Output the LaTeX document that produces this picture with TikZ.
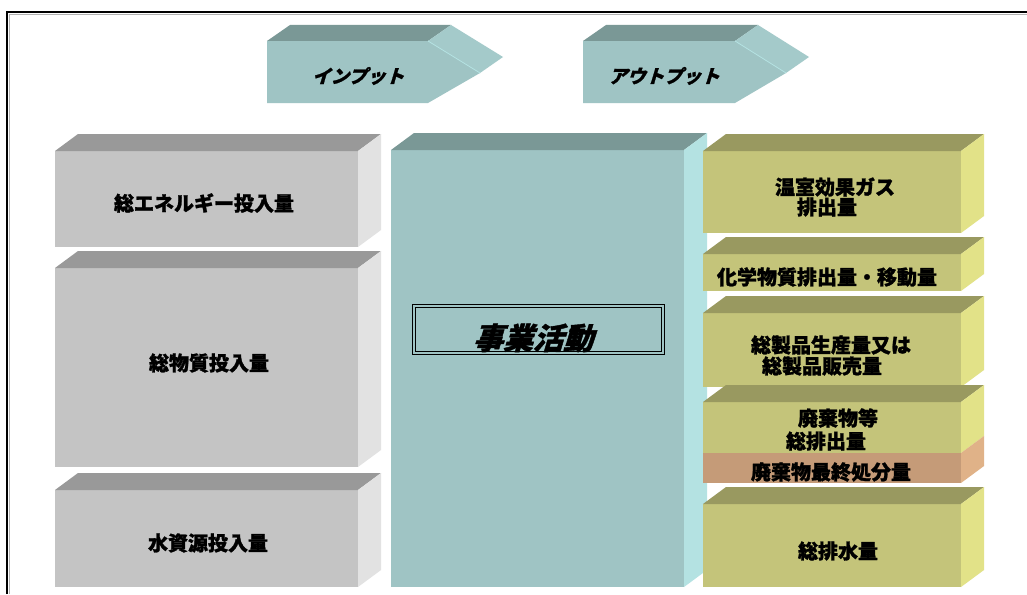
\documentclass[tikz,border=0pt]{standalone}
\usepackage{fontspec}
\newfontfamily\jp{Noto Sans CJK JP}[BoldFeatures={FakeBold=1.3}]
\newfontfamily\jpit{Noto Sans CJK JP}[FakeSlant=0.3,BoldFeatures={FakeSlant=0.3,FakeBold=1.3}]
\definecolor{grayF}{RGB}{196,196,196}
\definecolor{grayT}{RGB}{153,153,153}
\definecolor{grayS}{RGB}{226,226,226}
\definecolor{tealF}{RGB}{159,196,196}
\definecolor{tealT}{RGB}{122,152,150}
\definecolor{tealS}{RGB}{180,226,226}
\definecolor{tealTip}{RGB}{164,202,202}
\definecolor{oliveF}{RGB}{196,196,122}
\definecolor{oliveT}{RGB}{153,153,96}
\definecolor{oliveS}{RGB}{226,226,136}
\definecolor{orangeF}{RGB}{197,155,120}
\definecolor{orangeS}{RGB}{224,178,136}
\newcommand\myprism[7]{%
  \fill[#5] (#1,#2) rectangle (#3,#4);
  \fill[#6] (#1,#2) -- (#1+23,#2-17) -- (#3+23,#2-17) -- (#3,#2) -- cycle;
  \fill[#7] (#3,#2) -- (#3+23,#2-17) -- (#3+23,#4-17) -- (#3,#4) -- cycle;
}
\newcommand\myarrow[3]{% x1 x2 tipx ; front y 41..103
  \fill[tealF] (#1,41) -- (#2,41) -- (#3,73) -- (#2,103) -- (#1,103) -- cycle;
  \fill[tealT] (#1,41) -- (#1+23,25) -- (#2+23,25) -- (#2,41) -- cycle;
  \fill[tealTip] (#2,41) -- (#2+23,25) -- (#3+23,57) -- (#3,73) -- cycle;
  \draw[tealS, line width=0.8pt] (#2,41) -- (#3,73);
}
\tikzset{
  lbl/.style={font=\jp\bfseries\fontsize{20}{21}\selectfont, inner sep=0pt, align=center, text=black},
  arrlbl/.style={font=\jpit\bfseries\fontsize{18.5}{19}\selectfont, inner sep=0pt, text=black},
  mainlbl/.style={font=\jpit\bfseries\fontsize{30}{32}\selectfont, inner sep=0pt, text=black},
  mainframe/.style={draw=black, double=tealF, line width=1.6pt, double distance=1.2pt, minimum width=249pt, minimum height=47pt, inner sep=0pt},
}
\begin{document}
\begin{tikzpicture}[x=1pt,y=-1pt]
\useasboundingbox (0,0) rectangle (1027,594);
\fill[white] (0,0) rectangle (1027,594);
% frame
\draw[gray!60, line width=0.8pt] (9,594) -- (9,14) -- (1027,14);
\draw[black, line width=1.2pt] (7,594) -- (7,12) -- (1027,12);
% arrows
\myarrow{267}{428}{480}
\myarrow{583}{735}{786}
\node[arrlbl] (tin) at (358,76) {インプット};
\node[arrlbl] (tout) at (664,76) {アウトプット};
% left boxes
\myprism{55}{151}{358}{247}{grayF}{grayT}{grayS}
\myprism{55}{268}{358}{467}{grayF}{grayT}{grayS}
\myprism{55}{490}{358}{587}{grayF}{grayT}{grayS}
\node[lbl] (l1) at (204,203) {総エネルギー投入量};
\node[lbl] (l2) at (209,363) {総物質投入量};
\node[lbl] (l3) at (208,543) {水資源投入量};
% center box
\myprism{391}{150}{684}{587}{tealF}{tealT}{tealS}
\node[mainframe] (mf) at (538.5,329.5) {};
\node[mainlbl] (main) at (533,338) {事業活動};
% right boxes
\myprism{703}{151}{961}{233}{oliveF}{oliveT}{oliveS}
\myprism{703}{254}{961}{291}{oliveF}{oliveT}{oliveS}
\myprism{703}{313}{961}{387}{oliveF}{oliveT}{oliveS}
\myprism{703}{402}{961}{453}{oliveF}{oliveT}{oliveS}
\fill[orangeF] (703,453) rectangle (961,483);
\fill[orangeS] (961,453) -- (984,436) -- (984,466) -- (961,483) -- cycle;
\myprism{703}{504}{961}{587}{oliveF}{oliveT}{oliveS}
\node[lbl, font=\jp\bfseries\fontsize{20}{20}\selectfont] (r1) at (835,197) {温室効果ガス\\排出量\hspace*{16pt}};
\node[lbl] (r2) at (827,277) {化学物質排出量・移動量};
\node[lbl, font=\jp\bfseries\fontsize{20}{21}\selectfont] (r3) at (831,355.5) {総製品生産量又は\\総製品販売量\hspace*{18pt}};
\node[lbl, font=\jp\bfseries\fontsize{20}{23}\selectfont] (r4) at (838,429.5) {廃棄物等\\総排出量\hspace*{24pt}};
\node[lbl] (r5) at (831,472) {廃棄物最終処分量};
\node[lbl] (r6) at (838,551) {総排水量};
\end{tikzpicture}
\end{document}
